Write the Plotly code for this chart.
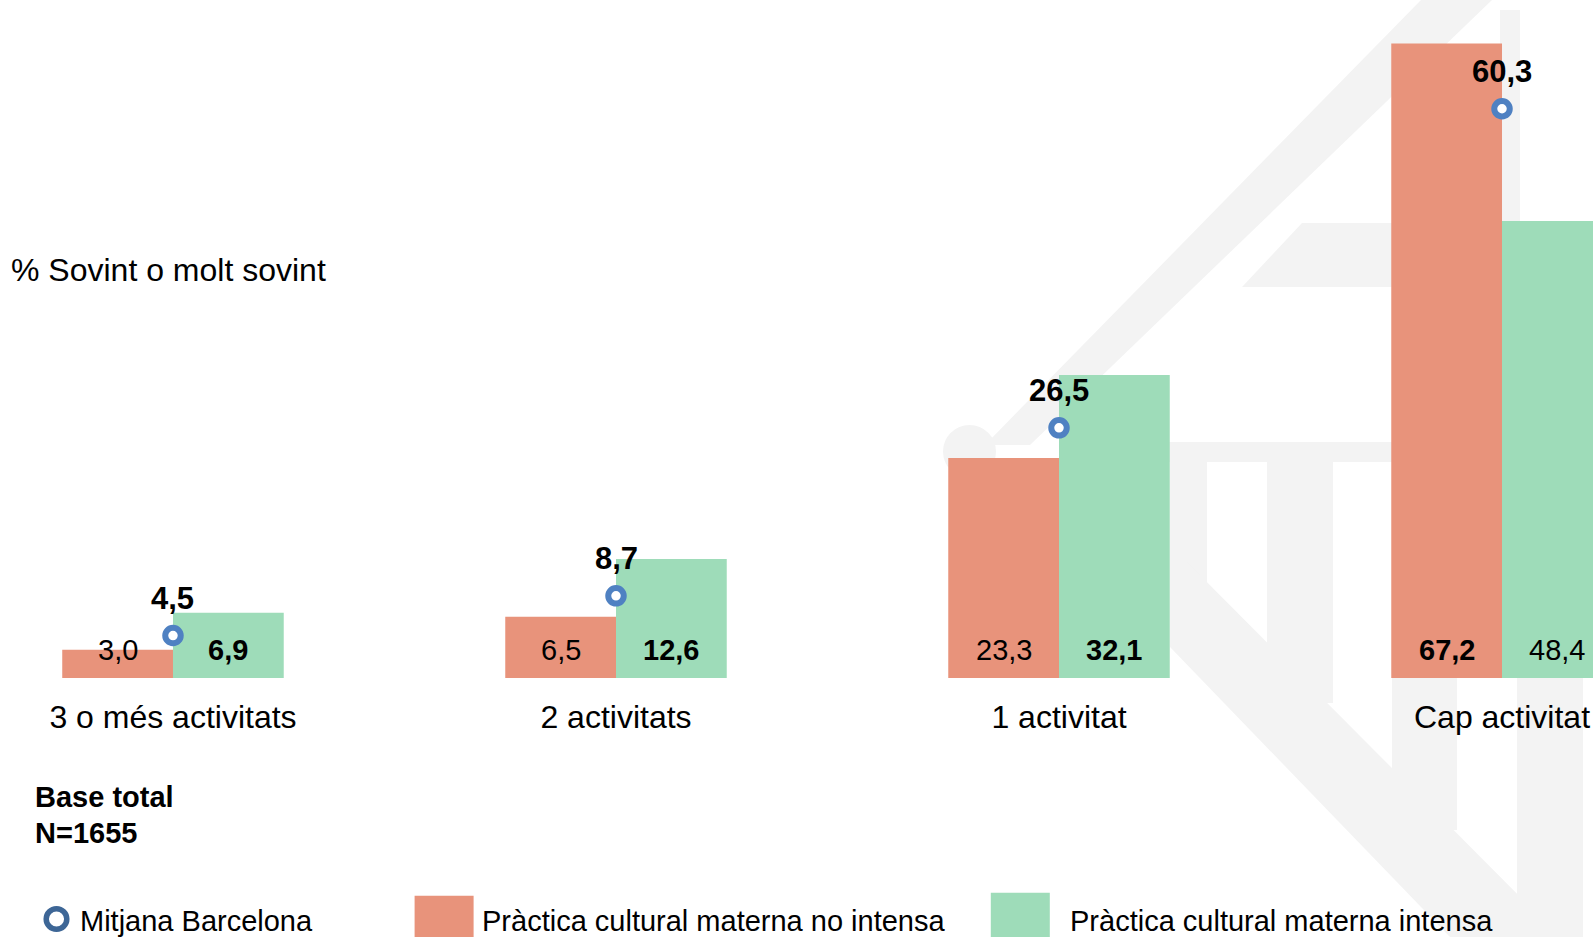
import plotly.graph_objects as go

# ---------------- data ----------------
categories = ["3 o més activitats", "2 activitats", "1 activitat", "Cap activitat"]
no_intensa = [3.0, 6.5, 23.3, 67.2]
intensa = [6.9, 12.6, 32.1, 48.4]
mitjana = [4.5, 8.7, 26.5, 60.3]
series_names = ["Mitjana Barcelona",
                "Pràctica cultural materna no intensa",
                "Pràctica cultural materna intensa"]
y_title = "% Sovint o molt sovint"
base_lines = ["Base total", "N=1655"]

# ---------------- style ----------------
W, H = 1593, 937
PLOT_BOTTOM = 678
ORANGE = "#E8937B"
GREEN = "#9EDCB9"
MARK = "#4F81C2"
LEG_MARK = "#3D6696"
WM = "#F3F3F3"
FONT = "Liberation Sans, Arial, sans-serif"


def fmt(v):
    return f"{v:.1f}".replace(".", ",")


def px_x(x):
    return x / W


def px_y(y):
    return (PLOT_BOTTOM - y) / PLOT_BOTTOM


def poly(points, color=WM, layer="below"):
    d = "M " + " L ".join(f"{px_x(x):.5f},{px_y(y):.5f}" for x, y in points) + " Z"
    return dict(type="path", xref="paper", yref="paper", path=d,
                fillcolor=color, line=dict(width=0), layer=layer)


def rect(x0, y0, x1, y1, color, layer="below"):
    return dict(type="rect", xref="paper", yref="paper",
                x0=px_x(x0), x1=px_x(x1), y0=px_y(y1), y1=px_y(y0),
                fillcolor=color, line=dict(width=0), layer=layer)


def note(x, y, text, size, **kw):
    d = dict(x=px_x(x), y=px_y(y), xref="paper", yref="paper", text=text,
             showarrow=False, xanchor="left", yanchor="middle",
             borderpad=0, borderwidth=0,
             font=dict(size=size, color="black", family=FONT))
    d.update(kw)
    return d


fig = go.Figure()
fig.add_trace(go.Bar(x=categories, y=no_intensa, name=series_names[1],
                     marker=dict(color=ORANGE, line=dict(width=0)),
                     showlegend=False, hoverinfo="skip"))
fig.add_trace(go.Bar(x=categories, y=intensa, name=series_names[2],
                     marker=dict(color=GREEN, line=dict(width=0)),
                     showlegend=False, hoverinfo="skip"))
fig.add_trace(go.Scatter(x=categories, y=mitjana, name=series_names[0],
                         mode="markers", showlegend=False, hoverinfo="skip",
                         marker=dict(symbol="circle", size=15.5, color="white",
                                     line=dict(color=MARK, width=6))))

annotations = []
# mean labels
for c, v in zip(categories, mitjana):
    annotations.append(dict(x=c, y=v, xref="x", yref="y", text=f"<b>{fmt(v)}</b>",
                            showarrow=False, yanchor="middle", yshift=37,
                            font=dict(size=31, color="black", family=FONT)))
# bar value labels near the base
for i, (a, b, m) in enumerate(zip(no_intensa, intensa, mitjana)):
    for off, v in ((-0.125, a), (0.125, b)):
        t = f"<b>{fmt(v)}</b>" if v > m else fmt(v)
        annotations.append(dict(x=i + off, y=0, xref="x", yref="y", text=t,
                                showarrow=False, yanchor="middle", yshift=28,
                                font=dict(size=29, color="black", family=FONT)))
# axis title
annotations.append(note(11, 270, y_title, 32))
# base note
for yy, line in zip((797, 833), base_lines):
    annotations.append(note(35, yy, f"<b>{line}</b>", 29))
# legend texts
for xx, name in zip((80, 482, 1070), series_names):
    annotations.append(note(xx, 921, name, 29))

shapes = [
    # faint watermark
    poly([(1421, 0), (1492, 0), (1030, 445), (985, 445)]),
    rect(1500, 10, 1520, 678, WM),
    poly([(1302, 223), (1593, 223), (1593, 287), (1242, 287)]),
    rect(1160, 442, 1392, 462, WM),
    rect(1170, 462, 1207, 600, WM),
    rect(1267, 462, 1333, 703, WM),
    poly([(1170, 545), (1170, 647), (1450, 937), (1560, 937)]),
    dict(type="circle", xref="paper", yref="paper",
         x0=px_x(943), x1=px_x(996), y0=px_y(478), y1=px_y(425),
         fillcolor=WM, line=dict(width=0), layer="below"),
    rect(1392, 678, 1457, 830, WM),
    rect(1517, 678, 1583, 937, WM),
    # legend swatches
    dict(type="circle", xref="paper", yref="paper",
         x0=px_x(46.2), x1=px_x(66.8), y0=px_y(929.3), y1=px_y(908.7),
         fillcolor="white", line=dict(color=LEG_MARK, width=5.5), layer="above"),
    rect(414.6, 895.7, 473.6, 937, ORANGE, "above"),
    rect(990.8, 892.7, 1049.8, 937, GREEN, "above"),
]

fig.update_layout(
    template="none",
    width=W, height=H,
    margin=dict(l=0, r=0, t=0, b=H - PLOT_BOTTOM, pad=0),
    paper_bgcolor="white", plot_bgcolor="rgba(0,0,0,0)",
    barmode="group", bargap=0.5, bargroupgap=0,
    font=dict(family=FONT, color="black"),
    showlegend=False,
    annotations=annotations,
    shapes=shapes,
    xaxis=dict(type="category", range=[-0.3905, 3.2054], showgrid=False,
               zeroline=False, showline=False, ticks="", automargin=False,
               tickfont=dict(size=32, color="black", family=FONT),
               ticklabelstandoff=17),
    yaxis=dict(visible=False, range=[0, 71.82], showgrid=False, zeroline=False,
               automargin=False),
)

fig.write_html("out.html",
               config={"displayModeBar": False},
               post_script="document.body.style.margin='0px';"
                           "document.body.style.overflow='hidden';")
